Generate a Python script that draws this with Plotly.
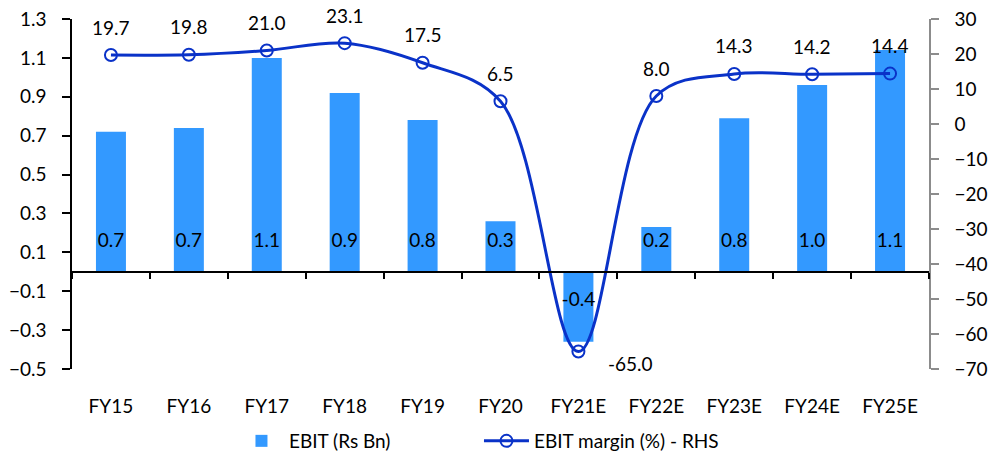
import plotly.graph_objects as go

# Fiscal years and series
years = ["FY15", "FY16", "FY17", "FY18", "FY19", "FY20", "FY21E", "FY22E", "FY23E", "FY24E", "FY25E"]
ebit = [0.72, 0.74, 1.10, 0.92, 0.78, 0.26, -0.36, 0.23, 0.79, 0.96, 1.14]
margin = [19.7, 19.8, 21.0, 23.1, 17.5, 6.5, -65.0, 8.0, 14.3, 14.2, 14.4]

left_ticks = [-0.5, -0.3, -0.1, 0.1, 0.3, 0.5, 0.7, 0.9, 1.1, 1.3]
right_ticks = [-70, -60, -50, -40, -30, -20, -10, 0, 10, 20, 30]

FONT = "Lato"
BAR = "#3399FF"
LINE = "#0A32C8"
XRANGE = [-0.5, len(years) - 0.5]

fig = go.Figure()

fig.add_trace(go.Bar(
    x=years, y=ebit, name="EBIT (Rs Bn)",
    marker=dict(color=BAR, line=dict(width=0)),
    width=0.385,
))

fig.add_trace(go.Scatter(
    x=years, y=margin, name="EBIT margin (%) - RHS", yaxis="y2",
    mode="lines+markers",
    line=dict(color=LINE, width=3, shape="spline", smoothing=1.0),
    marker=dict(symbol="circle-open", size=12, color=LINE, line=dict(width=2, color=LINE)),
))

# Bar value labels sitting just inside the bar base
fig.add_trace(go.Scatter(
    x=years, y=[0.15 if v >= 0 else -0.15 for v in ebit],
    text=[f"{v:.1f}" for v in ebit], mode="text",
    textfont=dict(family=FONT, size=19, color="black"),
    showlegend=False, hoverinfo="skip",
))

# Invisible trace so the zero-line axis with boundary ticks is rendered
fig.add_trace(go.Scatter(x=years, y=[None] * len(years), xaxis="x2", yaxis="y",
                         showlegend=False, hoverinfo="skip", mode="markers"))

# Margin value labels above each point (below-right for the trough)
annotations = []
for yr, m in zip(years, margin):
    if m < 0:
        annotations.append(dict(x=yr, y=m, xref="x", yref="y2", text=f"{m:.1f}",
                                showarrow=False, xshift=52, yshift=-12,
                                font=dict(family=FONT, size=19, color="black")))
    else:
        annotations.append(dict(x=yr, y=m, xref="x", yref="y2", text=f"{m:.1f}",
                                showarrow=False, yshift=28,
                                font=dict(family=FONT, size=19, color="black")))

fig.update_layout(
    width=1000, height=460,
    margin=dict(l=72, r=71, t=19, b=91, autoexpand=False),
    paper_bgcolor="white", plot_bgcolor="white",
    font=dict(family=FONT, size=19, color="black"),
    bargap=0.615,
    showlegend=True,
    legend=dict(orientation="h", x=0.189, xanchor="left", xref="paper",
                y=19 / 460, yanchor="middle", yref="container",
                font=dict(family=FONT, size=19), tracegroupgap=0,
                entrywidth=185, entrywidthmode="pixels", itemwidth=45),
    annotations=annotations,
    xaxis=dict(
        type="category", categoryorder="array", categoryarray=years, range=XRANGE,
        showline=False, showgrid=False, ticks="", ticklabelstandoff=24,
        tickfont=dict(family=FONT, size=19), automargin=False,
    ),
    xaxis2=dict(
        type="category", categoryorder="array", categoryarray=years, range=XRANGE,
        overlaying="x", anchor="free", position=0.5 / 1.8,
        showline=True, linecolor="black", linewidth=1.5,
        ticks="outside", tickson="boundaries", ticklen=6, tickcolor="black", tickwidth=1.5,
        showticklabels=False, showgrid=False, automargin=False,
    ),
    yaxis=dict(
        range=[-0.5, 1.3], tickvals=left_ticks, tickformat=".1f",
        showline=True, linecolor="black", linewidth=1.5,
        ticks="outside", ticklen=8, tickcolor="black", tickwidth=1.5,
        showgrid=False, zeroline=False, ticklabelstandoff=12,
        tickfont=dict(family=FONT, size=19), automargin=False,
    ),
    yaxis2=dict(
        range=[-70, 30], tickvals=right_ticks, overlaying="y", side="right",
        showline=True, linecolor="#8C8C8C", linewidth=1.5,
        ticks="outside", ticklen=8, tickcolor="#8C8C8C", tickwidth=1.5,
        showgrid=False, zeroline=False, ticklabelstandoff=12,
        tickfont=dict(family=FONT, size=19), automargin=False,
    ),
)

fig.write_html("out.html")
